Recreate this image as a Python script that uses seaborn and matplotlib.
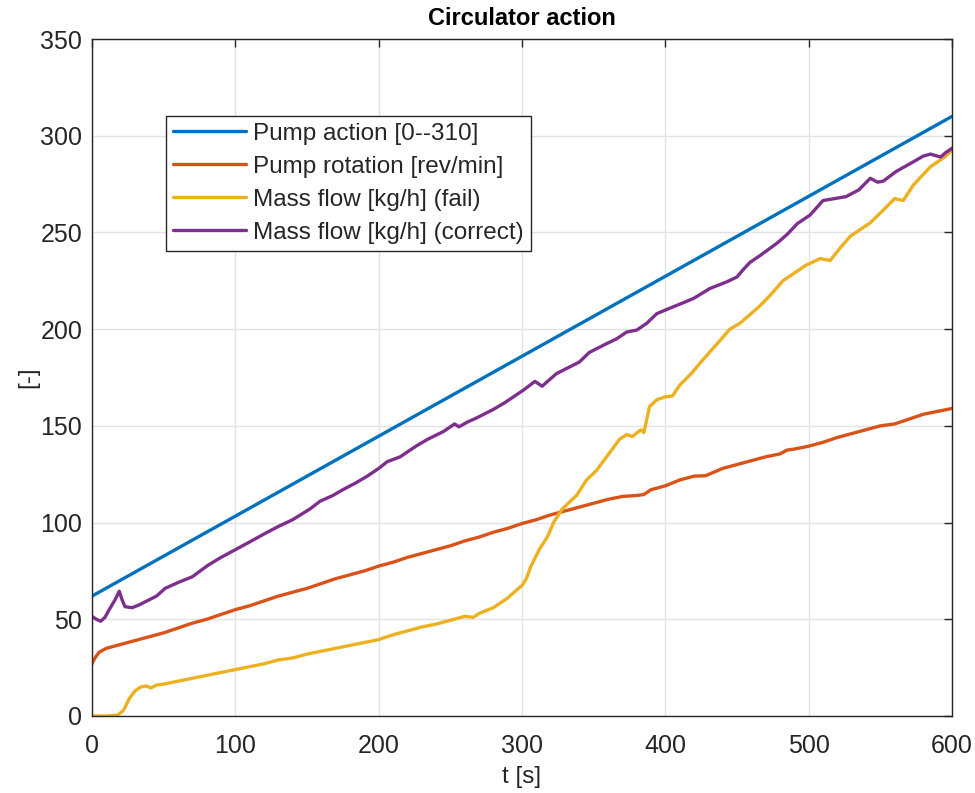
import numpy as np
import pandas as pd
import matplotlib
matplotlib.use("Agg")
import matplotlib.pyplot as plt
import seaborn as sns

# Pump action command (straight ramp)
t_action = [0, 600]
v_action = [62, 310]

# Pump rotation [rev/min]
t_rot = [0, 2, 5, 10, 20, 30, 40, 50, 60, 70, 80, 90, 100, 110, 120, 130, 140, 150,
         160, 170, 180, 190, 200, 210, 220, 230, 240, 250, 260, 270, 280, 290, 300,
         310, 320, 330, 340, 350, 360, 370, 380, 385, 390, 400, 410, 420, 428, 440,
         450, 460, 470, 480, 485, 490, 500, 510, 520, 530, 540, 550, 560, 570, 580,
         590, 600]
v_rot = [27, 30, 33, 35, 37, 39, 41, 43, 45.5, 48, 50, 52.5, 55, 57, 59.5, 62, 64, 66,
         68.5, 71, 73, 75, 77.5, 79.5, 82, 84, 86, 88, 90.5, 92.5, 95, 97, 99.5,
         101.5, 104, 106, 108, 110, 112, 113.5, 114, 114.5, 117, 119, 122, 124, 124.2, 128,
         130, 132, 134, 135.5, 137.5, 138, 139.5, 141.5, 144, 146, 148, 150, 151, 153.5, 156,
         157.5, 159]

# Mass flow [kg/h], failing run
t_fail = [0, 10, 18, 22, 26, 30, 34, 38, 41, 45, 50, 60, 70, 80, 90, 100, 110, 120,
          130, 140, 150, 160, 170, 180, 190, 200, 210, 220, 230, 240, 250, 260, 266,
          270, 280, 290, 296, 300, 303, 306, 312, 318, 322, 328, 338, 345, 352, 359,
          368, 373, 377, 383, 385, 389, 394, 400, 405, 410, 418, 426, 438, 445, 452,
          466, 475, 482, 490, 498, 508, 515, 522, 529, 543, 552, 560, 566, 573, 580,
          585, 590, 595, 600]
v_fail = [0, 0, 0.5, 3, 9, 13, 15, 15.5, 14.5, 16, 16.5, 18, 19.5, 21, 22.5, 24, 25.5, 27,
          29, 30, 32, 33.5, 35, 36.5, 38, 39.5, 42, 44, 46, 47.5, 49.5, 51.5, 51,
          53, 56, 61, 65, 67.5, 71, 77, 86, 93, 100, 107, 114, 122, 127, 134,
          143, 145.5, 144.5, 148, 146.5, 160, 163.5, 165, 165.5, 171, 177, 184, 194, 200, 203,
          212, 219, 225, 229, 233, 236.5, 235.5, 242, 248, 255, 261.5, 267.5, 266.5, 274.5, 280,
          284, 286.5, 289, 292.5]

# Mass flow [kg/h], correct run
t_ok = [0, 3, 6, 9, 12, 16, 19, 21, 23, 28, 33, 37, 45, 51, 60, 70, 81, 90, 100, 110,
        121, 130, 140, 152, 159, 168, 175, 184, 192, 200, 206, 215, 226, 234, 245, 253,
        256, 262, 268, 280, 288, 294, 301, 309, 314, 324, 332, 340, 347, 359, 366, 373,
        380, 387, 394, 402, 412, 420, 431, 443, 450, 454, 459, 466, 478, 485, 492, 501,
        510, 518, 526, 535, 543, 548, 552, 561, 567, 573, 580, 585, 592, 596, 600]
v_ok = [51.5, 50, 49, 51, 55, 60, 64.5, 60, 56.5, 56, 57.5, 59, 62, 66, 69, 72, 78, 82, 86, 90,
        94.5, 98, 101.5, 107, 111, 114, 117, 120.5, 124, 128, 131.5, 134, 139.5, 143, 147, 151,
        149.5, 152, 154, 158.5, 162, 165, 168.5, 173, 170.5, 177, 180, 183, 188, 192.5, 195, 198.5,
        199.5, 203, 208, 210.5, 213.5, 216, 221, 224.5, 227, 230.5, 234.5, 238, 244.5, 249, 254.5, 259,
        266.5, 267.5, 268.5, 272, 278, 276, 276.5, 281.5, 284, 286.5, 289.5, 290.5, 289, 291.5, 293.5]

labels = ["Pump action [0--310]", "Pump rotation [rev/min]",
          "Mass flow [kg/h] (fail)", "Mass flow [kg/h] (correct)"]
colors = ["#0072BD", "#D95319", "#EDB120", "#7E2F8E"]

sns.set_style("white")
plt.rcParams["font.family"] = ["Liberation Sans", "DejaVu Sans"]

fig = plt.figure(figsize=(9.75, 7.93), dpi=100)
ax = fig.add_axes([0.0944, 0.0971, 0.8820, 0.8537])

series = [(t_action, v_action), (t_rot, v_rot), (t_fail, v_fail), (t_ok, v_ok)]
for (tx, vy), lab, col in zip(series, labels, colors):
    sns.lineplot(x=tx, y=vy, ax=ax, color=col, linewidth=2.4, label=lab,
                 estimator=None, sort=False)

ax.set_xlim(0, 600)
ax.set_ylim(0, 350)
ax.set_xticks(np.arange(0, 601, 100))
ax.set_yticks(np.arange(0, 351, 50))
ax.grid(True, color="#e3e3e3", linewidth=1.0)
ax.set_axisbelow(True)
for s in ax.spines.values():
    s.set_color("#262626")
    s.set_linewidth(1.0)
ax.tick_params(direction="in", length=6, width=1, colors="#262626",
               labelsize=18, top=True, right=True)
ax.tick_params(axis="x", pad=13)
ax.tick_params(axis="y", pad=7)
for lbl in ax.get_xticklabels() + ax.get_yticklabels():
    lbl.set_color("#262626")

ax.set_xlabel("t [s]", fontsize=17.5, color="#262626", labelpad=6)
ax.set_ylabel("[-]", fontsize=17.5, color="#262626", labelpad=0.5)
ax.set_title("Circulator action", fontsize=17, fontweight="bold", color="black", pad=10)

leg = ax.legend(loc="upper left", bbox_to_anchor=(0.086, 0.887), fontsize=17.5,
                frameon=True, fancybox=False, framealpha=1, edgecolor="#262626",
                handlelength=3.0, handletextpad=0.3, borderpad=0.3,
                labelspacing=0.45, borderaxespad=0)
leg.get_frame().set_linewidth(1.0)

fig.savefig("out.png", dpi=100)
